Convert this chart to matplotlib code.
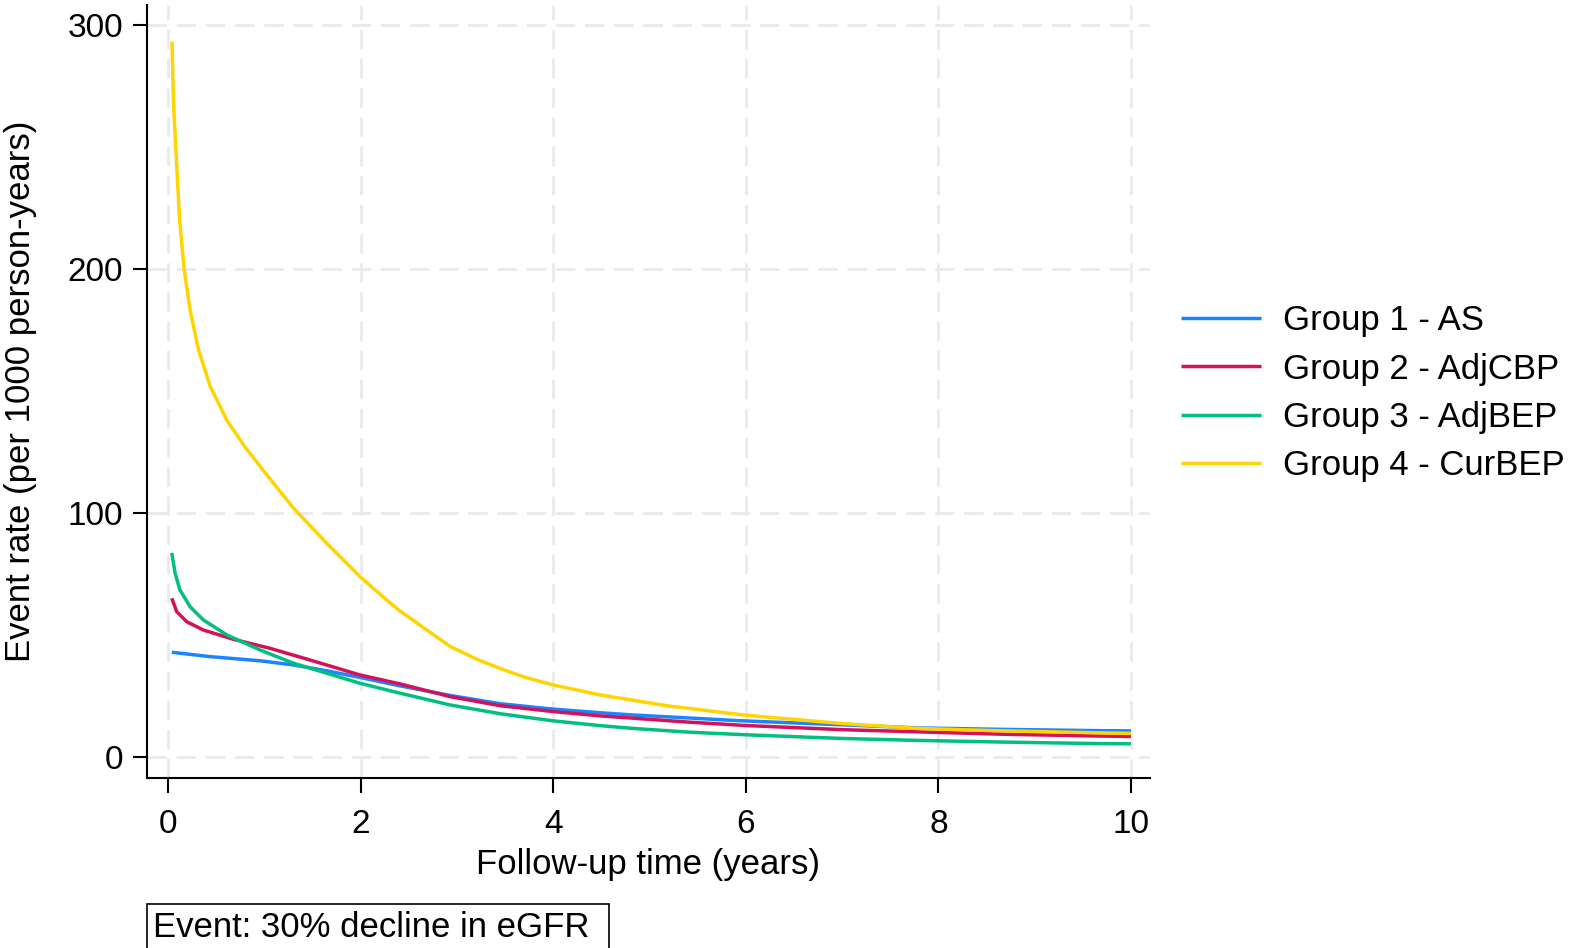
import matplotlib
matplotlib.use("Agg")
import matplotlib.pyplot as plt
from matplotlib.patches import Rectangle

plt.rcParams["font.family"] = ["Liberation Sans", "DejaVu Sans"]

# values (event rate per 1000 person-years)
x_as = [0.035, 0.433, 0.953, 1.30, 1.646, 1.99, 2.41, 2.93, 3.45, 4.0, 4.5, 4.83, 5.4, 5.91, 7.0, 7.79, 8.7, 9.66, 10.0]
y_as = [43.0, 41.2, 39.5, 37.8, 35.4, 32.7, 29.2, 25.3, 21.9, 19.7, 18.2, 17.3, 16.1, 15.0, 13.3, 12.0, 11.4, 10.9, 10.8]

x_cbp = [0.035, 0.087, 0.19, 0.364, 0.676, 1.057, 1.473, 1.99, 2.41, 2.93, 3.45, 4.0, 4.5, 4.83, 5.4, 6.0, 7.0, 7.79, 8.7, 9.66, 10.0]
y_cbp = [65.1, 59.6, 55.5, 52.1, 48.3, 44.6, 39.8, 33.7, 30.0, 24.8, 21.1, 18.7, 16.9, 16.0, 14.4, 13.0, 11.3, 10.4, 9.4, 8.7, 8.5]

x_bep = [0.035, 0.07, 0.12, 0.226, 0.364, 0.607, 0.953, 1.30, 1.646, 1.99, 2.41, 2.93, 3.45, 4.0, 4.5, 4.83, 5.4, 6.0, 7.0, 7.79, 8.7, 9.66, 10.0]
y_bep = [83.7, 75.3, 68.5, 61.6, 56.2, 50.1, 43.9, 38.5, 34.4, 30.3, 26.2, 21.4, 17.8, 14.9, 12.9, 11.8, 10.3, 9.2, 7.7, 6.9, 6.2, 5.6, 5.5]

x_cur = [0.038, 0.052, 0.087, 0.115, 0.163, 0.226, 0.312, 0.433, 0.607, 0.797, 1.023, 1.30, 1.646, 1.99,
         2.25, 2.41, 2.93, 3.2, 3.45, 3.7, 4.0, 4.49, 5.18, 6.0, 7.0, 7.79, 8.5, 9.2, 9.66, 10.0]
y_cur = [293.0, 269.0, 242.0, 221.0, 200.0, 183.0, 167.0, 152.0, 138.0, 127.0, 115.6, 102.0, 87.6, 74.0,
         65.0, 59.8, 45.3, 40.2, 36.3, 32.8, 29.6, 25.5, 21.1, 17.2, 13.8, 11.8, 11.0, 10.4, 10.0, 9.8]

labels = ["Group 1 - AS", "Group 2 - AdjCBP", "Group 3 - AdjBEP", "Group 4 - CurBEP"]
colors = ["#1a85ff", "#d41159", "#00bf7f", "#ffd400"]
xticks = [0, 2, 4, 6, 8, 10]
yticks = [0, 100, 200, 300]

fig = plt.figure(figsize=(15.71, 9.48), dpi=100)
ax = fig.add_axes([0.0934, 0.1793, 0.6387, 0.8154])

series = [(x_as, y_as), (x_cbp, y_cbp), (x_bep, y_bep), (x_cur, y_cur)]
for (xs, ys), lab, col in zip(series, labels, colors):
    ax.plot(xs, ys, color=col, lw=2.5, label=lab, zorder=3,
            solid_joinstyle="round", solid_capstyle="butt")

ax.set_xlim(-0.225, 10.2)
ax.set_ylim(-8.5, 308)
ax.set_xticks(xticks)
ax.set_yticks(yticks)
ax.grid(True, color="#eaeaea", lw=2, linestyle=(0, (7, 3.5)), zorder=1)

for s in ["top", "right"]:
    ax.spines[s].set_visible(False)
for s in ["left", "bottom"]:
    ax.spines[s].set_linewidth(1.5)
ax.tick_params(axis="x", length=11, width=1.5, pad=11, labelsize=24)
ax.tick_params(axis="y", length=10, width=1.5, pad=7, labelsize=24)

ax.set_xlabel("Follow-up time (years)", fontsize=25)
ax.xaxis.set_label_coords(0.5, -0.09)
ax.set_ylabel("Event rate (per 1000 person-years)", fontsize=25)
ax.yaxis.set_label_coords(-0.109, 0.5)

fig.legend(loc="upper left", bbox_to_anchor=(0.7517, 0.679), frameon=False,
           fontsize=25, handlelength=2.3, handletextpad=0.63, labelspacing=0.44,
           borderpad=0, borderaxespad=0)

# note box under the plot
fig.patches.append(Rectangle((147 / 1571, -0.02), 462 / 1571, 0.0664, transform=fig.transFigure,
                             fill=False, edgecolor="black", lw=1.2))
fig.text(153 / 1571, 0.0116, "Event: 30% decline in eGFR", fontsize=25, va="baseline", ha="left")

fig.savefig("out.png", dpi=100)
